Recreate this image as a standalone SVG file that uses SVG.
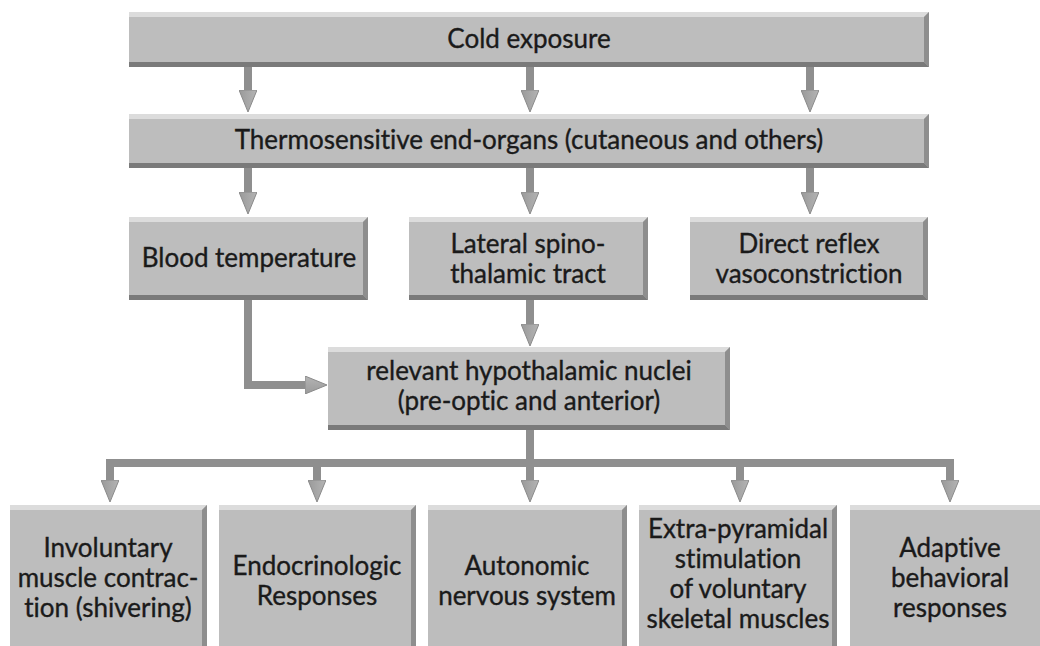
<svg xmlns="http://www.w3.org/2000/svg" width="1040" height="646" viewBox="0 0 1040 646">
<defs>
<style>
.face{fill:#bdbdbd}
.hi{fill:#dcdcdc}
.rt{fill:#8e8e8e}
.bt{fill:#7a7a7a}
.lbl{font-family:Lato,"Liberation Sans",sans-serif;font-size:26px;fill:#1a1a1a;stroke:#1a1a1a;stroke-width:0.35;text-anchor:middle;font-variant-ligatures:none}
.shaft{fill:none;stroke:#8f8f8f;stroke-width:8}
</style>
<linearGradient id="hg" x1="0" y1="0" x2="0" y2="1">
<stop offset="0" stop-color="#b4b4b4"/>
<stop offset="1" stop-color="#9a9a9a"/>
</linearGradient>
<marker id="ah" markerUnits="userSpaceOnUse" viewBox="0 0 22 18" refX="0" refY="9" markerWidth="22" markerHeight="18" orient="auto">
<path d="M0,0 L22,9 L0,18 z" fill="url(#hg)" stroke="#8a8a8a" stroke-width="1"/>
</marker>
</defs>
<rect width="1040" height="646" fill="#ffffff"/>

<g id="connectors">
<path class="shaft" d="M248,67 V90" marker-end="url(#ah)"/>
<path class="shaft" d="M530,67 V90" marker-end="url(#ah)"/>
<path class="shaft" d="M810,67 V90" marker-end="url(#ah)"/>
<path class="shaft" d="M248,168 V192" marker-end="url(#ah)"/>
<path class="shaft" d="M530,168 V192" marker-end="url(#ah)"/>
<path class="shaft" d="M810,168 V192" marker-end="url(#ah)"/>
<path class="shaft" d="M530,300 V324" marker-end="url(#ah)"/>
<path class="shaft" d="M248,300 V385 H305" marker-end="url(#ah)" stroke-linejoin="miter"/>
<path class="shaft" d="M530,430 V480" marker-end="url(#ah)"/>
<path class="shaft" d="M106,463 H954"/>
<path class="shaft" d="M110,459 V480" marker-end="url(#ah)"/>
<path class="shaft" d="M317,463 V480" marker-end="url(#ah)"/>
<path class="shaft" d="M740,463 V480" marker-end="url(#ah)"/>
<path class="shaft" d="M950,459 V480" marker-end="url(#ah)"/>
</g>

<g id="cold">
<rect class="face" x="129" y="12" width="800" height="55"/>
<polygon class="hi" points="129,12 929,12 924,17 129,17"/>
<polygon class="rt" points="929,12 929,67 924,62 924,17"/>
<polygon class="bt" points="129,67 929,67 924,62 129,62"/>
<text class="lbl" x="529" y="48">Cold exposure</text>
</g>

<g id="thermo">
<rect class="face" x="129" y="114" width="800" height="54"/>
<polygon class="hi" points="129,114 929,114 924,119 129,119"/>
<polygon class="rt" points="929,114 929,168 924,163 924,119"/>
<polygon class="bt" points="129,168 929,168 924,163 129,163"/>
<text class="lbl" x="529" y="149">Thermosensitive end-organs (cutaneous and others)</text>
</g>

<g id="blood">
<rect class="face" x="129" y="217" width="239" height="83"/>
<polygon class="hi" points="129,217 368,217 363,222 129,222"/>
<polygon class="rt" points="368,217 368,300 363,295 363,222"/>
<polygon class="bt" points="129,300 368,300 363,295 129,295"/>
<text class="lbl" x="249" y="267">Blood temperature</text>
</g>

<g id="lateral">
<rect class="face" x="409" y="217" width="239" height="83"/>
<polygon class="hi" points="409,217 648,217 643,222 409,222"/>
<polygon class="rt" points="648,217 648,300 643,295 643,222"/>
<polygon class="bt" points="409,300 648,300 643,295 409,295"/>
<text class="lbl" x="528" y="253">Lateral spino-</text>
<text class="lbl" x="528" y="283">thalamic tract</text>
</g>

<g id="direct">
<rect class="face" x="690" y="217" width="238" height="83"/>
<polygon class="hi" points="690,217 928,217 923,222 690,222"/>
<polygon class="rt" points="928,217 928,300 923,295 923,222"/>
<polygon class="bt" points="690,300 928,300 923,295 690,295"/>
<text class="lbl" x="809" y="253">Direct reflex</text>
<text class="lbl" x="809" y="283">vasoconstriction</text>
</g>

<g id="hypo">
<rect class="face" x="328" y="347" width="402" height="83"/>
<polygon class="hi" points="328,347 730,347 725,352 328,352"/>
<polygon class="rt" points="730,347 730,430 725,425 725,352"/>
<polygon class="bt" points="328,430 730,430 725,425 328,425"/>
<text class="lbl" x="529" y="380">relevant hypothalamic nuclei</text>
<text class="lbl" x="529" y="410">(pre-optic and anterior)</text>
</g>

<g id="shiver">
<rect class="face" x="10" y="505" width="197" height="145"/>
<polygon class="hi" points="10,505 207,505 202,510 10,510"/>
<polygon class="rt" points="207,505 207,650 202,650 202,510"/>
<text class="lbl" x="108" y="557">Involuntary</text>
<text class="lbl" x="108" y="587">muscle contrac-</text>
<text class="lbl" x="108" y="617">tion (shivering)</text>
</g>

<g id="endo">
<rect class="face" x="219" y="505" width="197" height="145"/>
<polygon class="hi" points="219,505 416,505 411,510 219,510"/>
<polygon class="rt" points="416,505 416,650 411,650 411,510"/>
<text class="lbl" x="317" y="575">Endocrinologic</text>
<text class="lbl" x="317" y="605">Responses</text>
</g>

<g id="auto">
<rect class="face" x="428" y="505" width="199" height="145"/>
<polygon class="hi" points="428,505 627,505 622,510 428,510"/>
<polygon class="rt" points="627,505 627,650 622,650 622,510"/>
<text class="lbl" x="527" y="575">Autonomic</text>
<text class="lbl" x="527" y="605">nervous system</text>
</g>

<g id="extra">
<rect class="face" x="639" y="505" width="198" height="145"/>
<polygon class="hi" points="639,505 837,505 832,510 639,510"/>
<polygon class="rt" points="837,505 837,650 832,650 832,510"/>
<text class="lbl" x="738" y="538">Extra-pyramidal</text>
<text class="lbl" x="738" y="568">stimulation</text>
<text class="lbl" x="738" y="598">of voluntary</text>
<text class="lbl" x="738" y="628">skeletal muscles</text>
</g>

<g id="adaptive">
<rect class="face" x="850" y="505" width="200" height="145"/>
<polygon class="hi" points="850,505 1050,505 1045,510 850,510"/>
<text class="lbl" x="950" y="557">Adaptive</text>
<text class="lbl" x="950" y="587">behavioral</text>
<text class="lbl" x="950" y="617">responses</text>
</g>
</svg>
